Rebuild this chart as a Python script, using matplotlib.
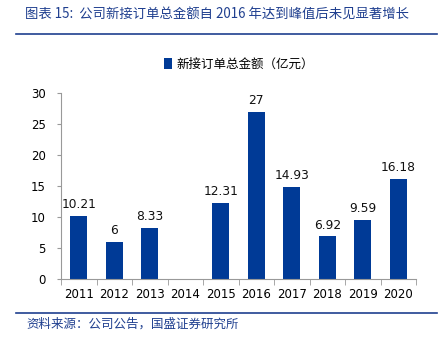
import matplotlib
matplotlib.use("Agg")
import matplotlib.pyplot as plt
import numpy as np

plt.rcParams['font.family'] = ['Noto Sans CJK SC', 'DejaVu Sans']

years = ["2011", "2012", "2013", "2014", "2015", "2016", "2017", "2018", "2019", "2020"]
orders = [10.21, 6, 8.33, None, 12.31, 27, 14.93, 6.92, 9.59, 16.18]
labels = ["10.21", "6", "8.33", "", "12.31", "27", "14.93", "6.92", "9.59", "16.18"]

bar_color = "#003A96"
title_color = "#1F3F8F"

fig = plt.figure(figsize=(4.46, 3.37), dpi=100)
ax = fig.add_axes([0.137, 0.171, 0.796, 0.552])

x = np.arange(len(years))
vals = [v if v is not None else 0 for v in orders]
bars = ax.bar(x, vals, width=0.48, color=bar_color, label="新接订单总金额（亿元）")
for xi, v, lab in zip(x, vals, labels):
    if lab:
        ax.text(xi, v + 0.8, lab, ha="center", va="bottom", fontsize=8.8,
                family="DejaVu Sans", color="#111111")

ax.set_xlim(-0.5, len(years) - 0.5)
ax.set_ylim(0, 30)
ax.set_yticks(range(0, 31, 5))
ax.set_xticks(x)
ax.set_xticklabels(years)
ax.set_xticks(np.arange(-0.5, len(years), 1), minor=True)
ax.tick_params(axis="x", which="major", length=0, pad=6, labelsize=8.5)
ax.tick_params(axis="x", which="minor", length=4, color="#999999", direction="out")
ax.tick_params(axis="y", length=3, color="#999999", labelsize=8.5, pad=8)
for lbl in ax.get_xticklabels() + ax.get_yticklabels():
    lbl.set_family("DejaVu Sans")
for s in ["top", "right"]:
    ax.spines[s].set_visible(False)
ax.spines["left"].set_color("#999999")
ax.spines["bottom"].set_color("#999999")

leg = ax.legend(loc="lower center", bbox_to_anchor=(0.5, 1.06), frameon=False,
                fontsize=9, handlelength=0.7, handleheight=0.9, handletextpad=0.3)

fig.text(0.056, 0.955, "图表 15:  公司新接订单总金额自 2016 年达到峰值后未见显著增长",
         fontsize=9.6, color=title_color, va="center", style="italic")
fig.add_artist(plt.Line2D([0.035, 0.98], [0.9, 0.9], color=title_color, lw=1.2))
fig.add_artist(plt.Line2D([0.035, 0.98], [0.072, 0.072], color=title_color, lw=1.2))
fig.text(0.06, 0.038, "资料来源：公司公告，国盛证券研究所", fontsize=9,
         color=title_color, va="center", style="italic")

fig.savefig("out.png", dpi=100)
